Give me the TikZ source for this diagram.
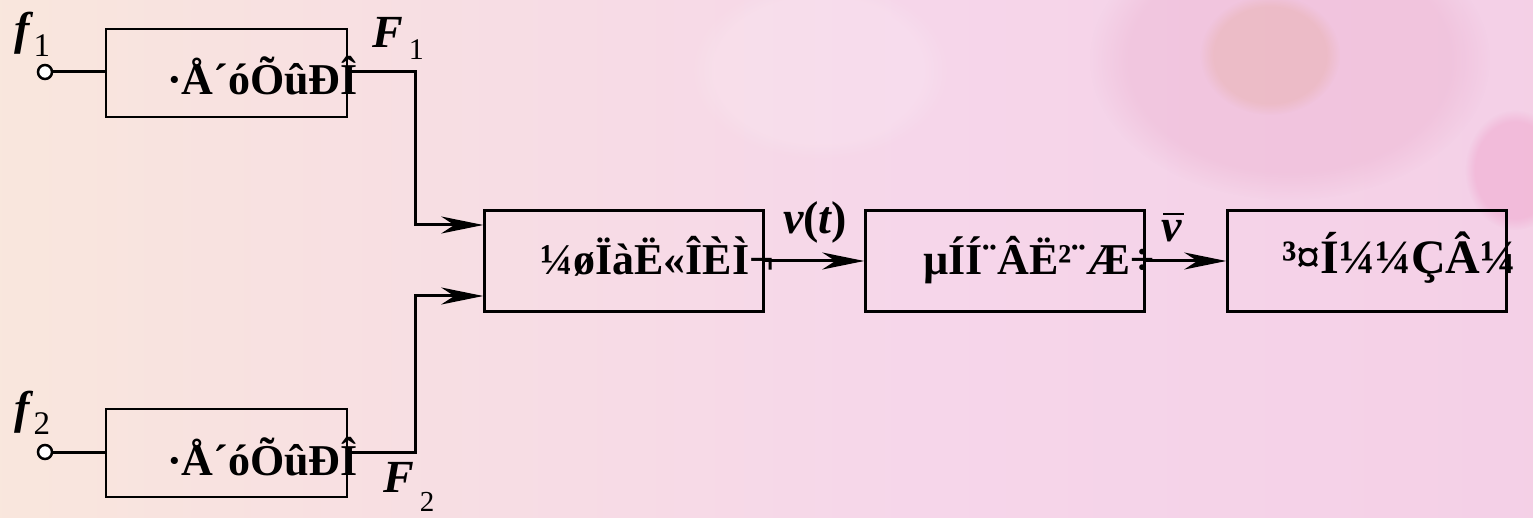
\documentclass[tikz,border=0pt]{standalone}
\usepackage{fontspec}
\setmainfont{Liberation Serif}
\usetikzlibrary{arrows.meta,fadings}
\definecolor{bgcream}{HTML}{FBEDD8}
\definecolor{bgpeach}{HTML}{F8E2E0}
\definecolor{bgpink}{HTML}{F6D6EA}
\definecolor{bgpinkR}{HTML}{F2C8E2}
\definecolor{petal}{HTML}{E9A6C8}
\definecolor{peach}{HTML}{E3A892}
\definecolor{hotpink}{HTML}{EE8CBE}
\pgfdeclarehorizontalshading{bgshade}{100bp}{color(0bp)=(bgcream); color(15bp)=(bgcream); color(32bp)=(bgpeach); color(55bp)=(bgpink); color(100bp)=(bgpinkR)}
\begin{document}
\begin{tikzpicture}[x=1pt,y=-1pt,
  blk/.style={draw=black,line width=2.5pt,minimum width=241pt,minimum height=88pt,inner sep=0pt},
  blkb/.style={draw=black,line width=2.5pt,minimum width=279pt,minimum height=101pt,inner sep=0pt},
  txt/.style={inner sep=0pt,anchor=base west,font=\fontsize{44}{46}\selectfont\bfseries},
  lbl/.style={inner sep=0pt,anchor=base west,font=\fontsize{46}{48}\selectfont\bfseries\itshape},
  term/.style={circle,draw=black,fill=white,line width=2.5pt,minimum size=14pt,inner sep=0pt},
  wire/.style={line width=3pt},
  arr/.style={wire,-{Stealth[length=42pt,width=17pt,inset=13pt]}}
]
\useasboundingbox (0,0) rectangle (1533,518);
% background
\shade[shading=bgshade] (0,0) rectangle (1533,518);
\fill[petal,opacity=0.3,path fading=circle with fuzzy edge 20 percent] (1290,60) ellipse (200 and 140);
\fill[peach,opacity=0.3,path fading=circle with fuzzy edge 20 percent] (1270,55) ellipse (70 and 60);
\fill[hotpink,opacity=0.3,path fading=circle with fuzzy edge 20 percent] (1515,170) ellipse (50 and 60);
\fill[white,opacity=0.15,path fading=circle with fuzzy edge 20 percent] (820,70) ellipse (130 and 90);

% blocks
\node[blk] (b1) at (226.5,73) {};
\node[blk] (b2) at (226.5,453) {};
\node[blkb] (b3) at (624,261) {};
\node[blkb] (b4) at (1005,261) {};
\node[blkb] (b5) at (1367,261) {};

% block texts
\node[txt] (t1) at (167,95) {·Å´óÕûÐÎ};
\node[txt] (t2) at (167,475) {·Å´óÕûÐÎ};
\node[txt] (t3) at (540,275) {¼øÏàË«ÎÈÌ¬};
\node[txt] (t4) at (923,275) {µÍÍ¨ÂË²¨Æ÷};
\node[txt,font=\fontsize{48}{50}\selectfont\bfseries] (t5) at (1282,274) {³¤Í¼¼ÇÂ¼};

% input terminals
\node[term] (in1) at (45,72) {};
\node[term] (in2) at (45,452) {};

% junction coordinates
\coordinate (j1) at (415,225);
\coordinate (j2) at (415,296);

% connectors
\draw[wire] (in1) -- (b1.west |- in1);
\draw[wire] (in2) -- (b2.west |- in2);
\draw[arr] (b1.east |- in1) -| (j1) -- (j1 -| b3.west);
\draw[arr] (b2.east |- in2) -| (j2) -- (j2 -| b3.west);
\draw[arr] (b3.east) -- (b4.west);
\draw[arr] (b4.east) -- (b5.west);

% labels
\node[lbl] (lf1) at (14,45) {f\hspace{4pt}\raisebox{-12pt}{\fontsize{33}{33}\selectfont\mdseries\upshape 1}};
\node[lbl] (lf2) at (14,423) {f\hspace{4pt}\raisebox{-11pt}{\fontsize{33}{33}\selectfont\mdseries\upshape 2}};
\node[lbl] (lF1) at (372,48) {F\hspace{6pt}\raisebox{-12pt}{\fontsize{30}{30}\selectfont\mdseries\upshape 1}};
\node[lbl] (lF2) at (383,492) {F\hspace{6pt}\raisebox{-19pt}{\fontsize{29}{29}\selectfont\mdseries\upshape 2}};
\node[lbl] (lv) at (783,234) {v\upshape(\itshape t\upshape)};
\node[lbl] (lvb) at (1161,242) {v};
\draw[line width=2pt] ([xshift=2pt,yshift=7pt]lvb.north west) -- ([xshift=2pt,yshift=7pt]lvb.north east);
\end{tikzpicture}
\end{document}
